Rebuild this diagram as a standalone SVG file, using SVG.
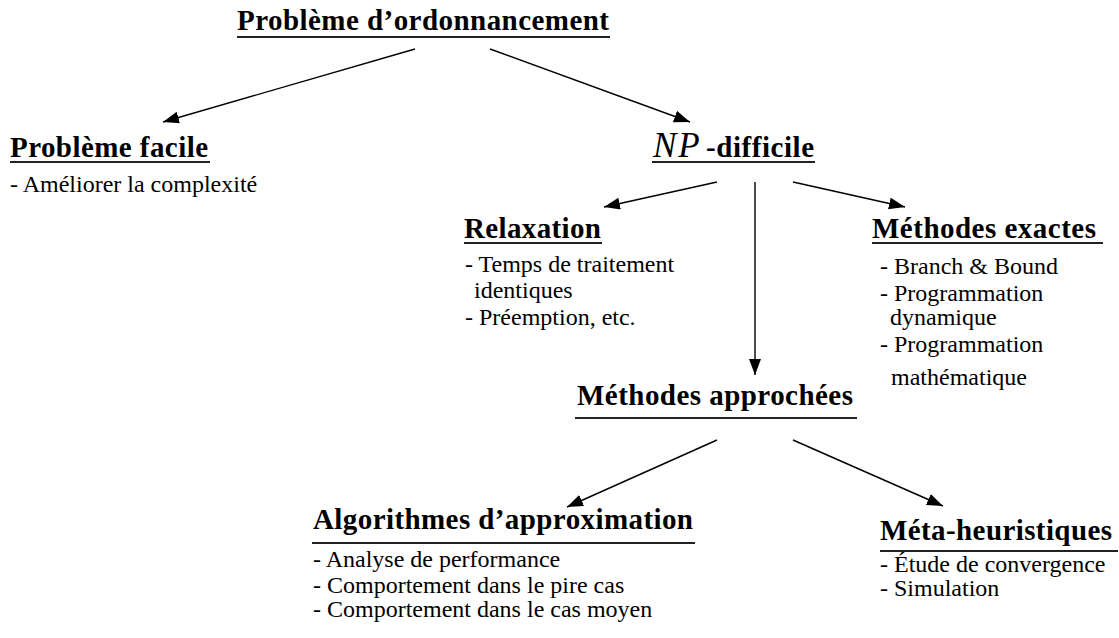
<svg xmlns="http://www.w3.org/2000/svg" width="1119" height="638" viewBox="0 0 1119 638" font-family="Liberation Serif, Times New Roman, serif">
<style>
text{font-family:'Liberation Serif','Times New Roman',Times,serif;fill:#000}
.h{font-weight:bold;font-size:29px}
.t{font-size:24px}
.ul{stroke:#222;stroke-width:2}
.c{stroke:#000;stroke-width:1.4;fill:none;marker-end:url(#ah)}
</style>
<defs>
<marker id="ah" markerUnits="userSpaceOnUse" markerWidth="18" markerHeight="14" refX="16" refY="6" orient="auto">
<path d="M0,0 L16,6 L0,12 z" fill="#000"/>
</marker>
</defs>
<rect width="1119" height="638" fill="#fff"/>
<g id="connectors">
<line class="c" x1="415" y1="49" x2="163" y2="122"/>
<line class="c" x1="490" y1="49" x2="690" y2="122"/>
<line class="c" x1="717" y1="182" x2="604" y2="207"/>
<line class="c" x1="755" y1="182" x2="755" y2="375"/>
<line class="c" x1="793" y1="182" x2="905" y2="207"/>
<line class="c" x1="717" y1="440" x2="567" y2="507"/>
<line class="c" x1="793" y1="440" x2="943" y2="506"/>
</g>
<g id="root">
<text class="h" x="237" y="30" textLength="372" lengthAdjust="spacing">Problème d’ordonnancement</text>
<line class="ul" x1="237" y1="37" x2="610" y2="37"/>
</g>
<g id="facile">
<text class="h" x="10" y="157" textLength="198" lengthAdjust="spacing">Problème facile</text>
<line class="ul" x1="10" y1="162" x2="210" y2="162"/>
<text class="t" x="10" y="192">- Améliorer la complexité</text>
</g>
<g id="np">
<text x="653" y="157" style="font-size:35px;font-style:italic;letter-spacing:2px">NP</text>
<text class="h" x="706" y="157" textLength="108" lengthAdjust="spacing">-difficile</text>
<line class="ul" x1="652" y1="162" x2="815" y2="162"/>
</g>
<g id="relaxation">
<text class="h" x="464" y="238" textLength="137" lengthAdjust="spacing">Relaxation</text>
<line class="ul" x1="464" y1="243" x2="602" y2="243"/>
<text class="t" x="465" y="272">- Temps de traitement</text>
<text class="t" x="474" y="298">identiques</text>
<text class="t" x="465" y="325">- Préemption, etc.</text>
</g>
<g id="exactes">
<text class="h" x="872" y="238" textLength="224" lengthAdjust="spacing">Méthodes exactes</text>
<line class="ul" x1="872" y1="243" x2="1103" y2="243"/>
<text class="t" x="880" y="274">- Branch &amp; Bound</text>
<text class="t" x="880" y="301">- Programmation</text>
<text class="t" x="890" y="325">dynamique</text>
<text class="t" x="880" y="352">- Programmation</text>
<text class="t" x="891" y="385">mathématique</text>
</g>
<g id="approchees">
<text class="h" x="577" y="405" textLength="276" lengthAdjust="spacing">Méthodes approchées</text>
<line class="ul" x1="575" y1="418" x2="857" y2="418"/>
</g>
<g id="approximation">
<text class="h" x="313" y="529" textLength="380" lengthAdjust="spacing">Algorithmes d’approximation</text>
<line class="ul" x1="312" y1="543" x2="695" y2="543"/>
<text class="t" x="313" y="567">- Analyse de performance</text>
<text class="t" x="313" y="593">- Comportement dans le pire cas</text>
<text class="t" x="313" y="617">- Comportement dans le cas moyen</text>
</g>
<g id="meta">
<text class="h" x="880" y="540" textLength="232" lengthAdjust="spacing">Méta-heuristiques</text>
<line class="ul" x1="880" y1="551" x2="1118" y2="551"/>
<text class="t" x="880" y="572">- Étude de convergence</text>
<text class="t" x="880" y="596">- Simulation</text>
</g>
</svg>
